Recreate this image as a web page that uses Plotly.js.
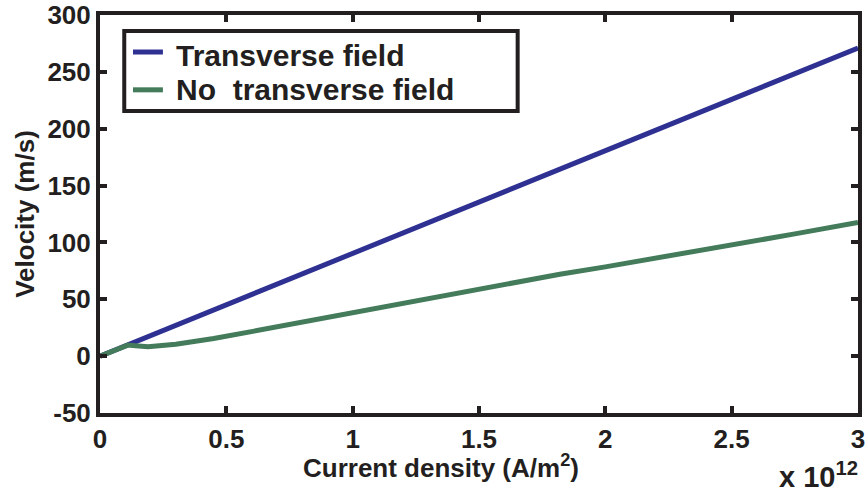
<!DOCTYPE html>
<html>
<head>
<meta charset="utf-8">
<script src="https://cdn.plot.ly/plotly-3.0.1.min.js"></script>
<style>html,body{margin:0;padding:0;background:#fff}#chart{width:866px;height:495px}</style>
</head>
<body>
<div id="chart"></div>
<script>
// Current density in units of 1e12 A/m^2
const blueX = [0, 0.5, 1.0, 1.5, 2.0, 2.5, 3.0];
const blueY = [0, 45, 90, 135, 180, 225, 271];
const greenX = [0, 0.05, 0.11, 0.14, 0.19, 0.3, 0.45, 0.61, 0.79, 1.0, 1.27, 1.5, 1.82, 2.0, 2.3, 2.5, 2.75, 3.0];
const greenY = [0, 4.5, 9.7, 9.2, 8.3, 10.5, 15.5, 22, 29.5, 38.5, 49.2, 58.5, 72, 78.5, 89.7, 98, 107.5, 117.5];
const seriesNames = ["Transverse field", "No\u00a0 transverse field"];
const seriesColors = ['#2e3192', '#437b5b'];
const xTicks = [0, 0.5, 1, 1.5, 2, 2.5, 3];
const yTicks = [-50, 0, 50, 100, 150, 200, 250, 300];

const txt = '#231f20';
const fam = 'Liberation Sans, Arial, sans-serif';
const fnt = {family: fam, size: 26, color: txt, weight: 'bold'};
const legFnt = {family: fam, size: 30, color: txt, weight: 'bold'};

const data = [
  {x: blueX, y: blueY, mode: 'lines', name: seriesNames[0], line: {color: seriesColors[0], width: 5}},
  {x: greenX, y: greenY, mode: 'lines', name: seriesNames[1], line: {color: seriesColors[1], width: 5}}
];

const axisCommon = {
  showline: true, linecolor: txt, linewidth: 4, mirror: 'ticks',
  ticks: 'inside', ticklen: 7, tickwidth: 4, tickcolor: txt,
  showgrid: false, zeroline: false,
  tickfont: fnt
};

// Manual legend (paper coordinates)
const legLines = [0.907, 0.812];
const legText = [0.899, 0.812];
const shapes = [
  {type: 'rect', xref: 'paper', yref: 'paper', x0: 0.032, x1: 0.551, y0: 0.759, y1: 0.960,
   line: {color: txt, width: 4}, fillcolor: '#fff', layer: 'above'}
];
const annotations = [];
seriesNames.forEach((n, i) => {
  shapes.push({type: 'line', xref: 'paper', yref: 'paper', x0: 0.0435, x1: 0.083,
    y0: legLines[i], y1: legLines[i], line: {color: seriesColors[i], width: 5}, layer: 'above'});
  annotations.push({xref: 'paper', yref: 'paper', x: 0.097, y: legText[i],
    xanchor: 'left', yanchor: 'middle', text: n, showarrow: false, font: legFnt});
});
annotations.push({xref: 'paper', yref: 'paper', x: 0.45, y: -0.134, xanchor: 'center', yanchor: 'middle',
  text: 'Current density (A/m<sup>2</sup>)', showarrow: false, font: fnt});
annotations.push({xref: 'paper', yref: 'paper', x: 1.003, y: -0.205, xanchor: 'right', yanchor: 'bottom',
  text: 'x 10<sup>12</sup>', showarrow: false, font: {family: fam, size: 29, color: txt, weight: 'bold'}});

const layout = {
  width: 866, height: 495,
  margin: {l: 100, r: 8, t: 15, b: 82},
  paper_bgcolor: '#fff', plot_bgcolor: '#fff',
  font: fnt,
  showlegend: false,
  xaxis: Object.assign({}, axisCommon, {
    range: [0, 3], tickvals: xTicks, ticktext: xTicks.map(String)
  }),
  yaxis: Object.assign({}, axisCommon, {
    range: [-50, 300], tickvals: yTicks, ticktext: yTicks.map(String),
    title: {text: 'Velocity (m/s)', font: fnt, standoff: 6}
  }),
  shapes: shapes,
  annotations: annotations
};

Plotly.newPlot('chart', data, layout, {displayModeBar: false, staticPlot: true});
</script>
</body>
</html>
